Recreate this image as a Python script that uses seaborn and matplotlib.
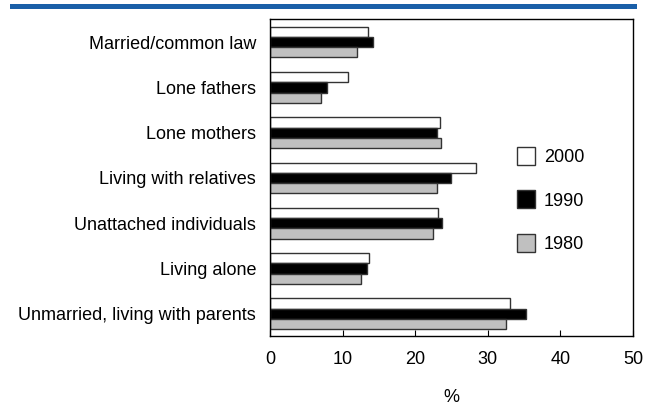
import matplotlib
matplotlib.use("Agg")
import matplotlib.pyplot as plt
from matplotlib.patches import Patch, Rectangle
import pandas as pd
import seaborn as sns

categories = [
    "Married/common law",
    "Lone fathers",
    "Lone mothers",
    "Living with relatives",
    "Unattached individuals",
    "Living alone",
    "Unmarried, living with parents",
]
years = ["2000", "1990", "1980"]
values_2000 = [13.5, 10.8, 23.4, 28.4, 23.2, 13.6, 33.0]
values_1990 = [14.2, 7.8, 23.0, 24.9, 23.7, 13.4, 35.2]
values_1980 = [12.0, 7.0, 23.6, 23.0, 22.4, 12.6, 32.5]
x_ticks = [0, 10, 20, 30, 40, 50]

df = pd.DataFrame({
    "category": categories * 3,
    "year": [y for y in years for _ in categories],
    "value": values_2000 + values_1990 + values_1980,
})

sns.set_theme(style="white", rc={
    "text.color": "black", "axes.labelcolor": "black",
    "xtick.color": "black", "ytick.color": "black",
})
plt.rcParams["font.family"] = ["Liberation Sans", "DejaVu Sans"]

colors = {"2000": "#ffffff", "1990": "#000000", "1980": "#c0c0c0"}
edge = "#333333"

fig = plt.figure(figsize=(6.45, 4.09), dpi=100)
ax = fig.add_axes([270 / 645, 1 - 336 / 409, 363 / 645, 317 / 409])

sns.barplot(
    data=df, x="value", y="category", hue="year", hue_order=years,
    order=categories, palette=colors, orient="h", width=0.68,
    edgecolor=edge, linewidth=1.0, ax=ax, legend=False, errorbar=None,
)

ax.set_xlim(0, 50)
ax.set_ylim(6.49, -0.51)
ax.set_xticks(x_ticks)
ax.set_xticklabels([str(t) for t in x_ticks])
ax.tick_params(axis="x", direction="in", length=4.5, width=0.8, color="black",
               labelcolor="black", pad=11, labelsize=13, bottom=True)
ax.tick_params(axis="y", length=0, pad=10, labelsize=13, labelcolor="black")
ax.set_xlabel("%", fontsize=13, labelpad=15, color="black")
ax.set_ylabel("")
for s in ax.spines.values():
    s.set_visible(True)
    s.set_color("black")
    s.set_linewidth(1.0)

handles = [Patch(facecolor=colors[y], edgecolor=edge, linewidth=1.0, label=y) for y in years]
leg = fig.legend(
    handles=handles, loc="upper left", bbox_to_anchor=(517 / 645, 1 - 147 / 409),
    frameon=False, fontsize=13, handlelength=1.0, handleheight=1.15,
    handletextpad=0.5, labelspacing=1.35, borderpad=0, borderaxespad=0,
)
for t in leg.get_texts():
    t.set_color("black")

# blue rule across the top
fig.add_artist(Rectangle((10 / 645, 1 - 8.5 / 409), 627 / 645, 5 / 409,
                         transform=fig.transFigure, facecolor="#1a5fa8",
                         edgecolor="none"))

fig.savefig("out.png", dpi=100)
